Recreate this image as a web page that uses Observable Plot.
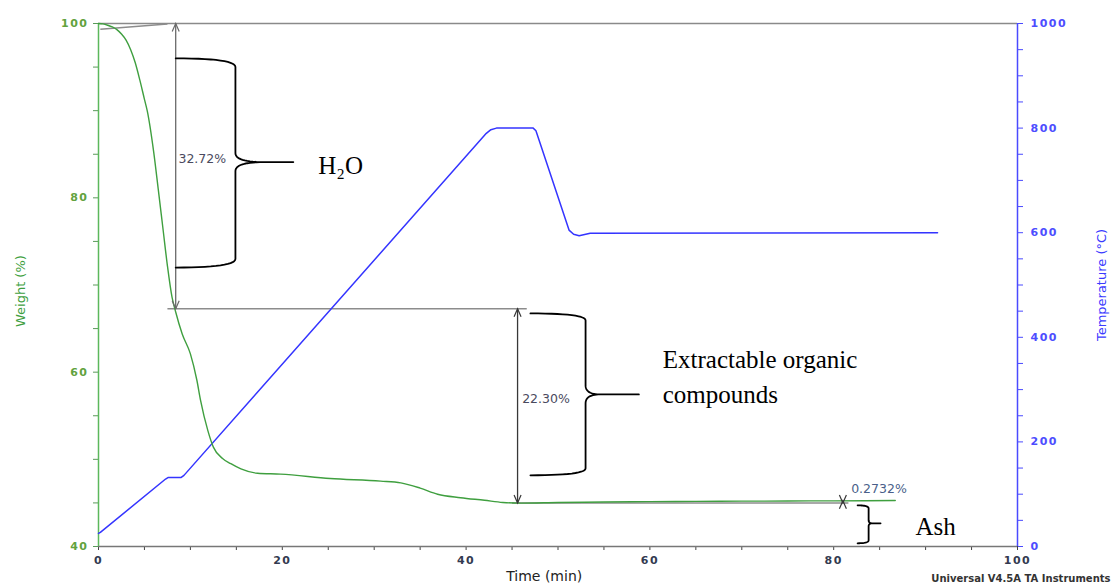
<!DOCTYPE html>
<html>
<head>
<meta charset="utf-8">
<script src="https://cdn.jsdelivr.net/npm/d3@7"></script>
<script src="https://cdn.jsdelivr.net/npm/@observablehq/plot@0.6"></script>
<style>
  html, body { margin: 0; padding: 0; background: #fff; }
  svg { display: block; }
  g[aria-label="x-axis tick label"], g[aria-label="y-axis tick label"] { letter-spacing: 1.5px; font-weight: bold; }
</style>
</head>
<body>
<div id="chart"></div>
<script>
// ---- Weight (%) vs time (min) ----
const weightTime = [0, 0.5, 1, 1.5, 2, 2.5, 3, 3.5, 4, 4.5, 5, 5.3, 6.0, 6.5, 7.0, 7.5, 8.0, 8.4, 9.1, 10.0, 10.7, 11.1, 11.9, 12.5, 13.5, 14.4, 15.5, 17.3, 19.8, 25.2, 30.7, 32.9, 35.0, 36.9, 39.4, 42, 44, 46, 50, 55, 60, 65, 70, 75, 80, 86.7];
const weightPct  = [100, 99.95, 99.8, 99.6, 99.3, 98.8, 98.1, 97.0, 95.5, 93.5, 91.3, 90.0, 85.3, 81.0, 76.6, 72.2, 68.6, 66.9, 64.4, 62.1, 59.1, 56.8, 53.3, 51.4, 50.1, 49.5, 48.9, 48.4, 48.3, 47.8, 47.5, 47.3, 46.7, 46.0, 45.6, 45.3, 45.05, 44.98, 45.05, 45.1, 45.15, 45.18, 45.2, 45.22, 45.24, 45.27];

// ---- Temperature (°C) vs time (min) ----
const tempTime = [0, 0.2, 7.3, 7.6, 9.0, 9.3, 42.2, 42.7, 43.3, 47.3, 47.6, 51.2, 51.7, 52.3, 53.5, 91.3];
const tempC    = [25, 27, 129, 132, 132, 136, 790, 797, 800, 800, 795, 605, 597, 594, 599, 600];

// ---- Axis ticks ----
const timeTicks = d3.range(0, 101, 5);
const timeTickLabels = [0, 20, 40, 60, 80, 100];
const weightTicks = d3.range(40, 101, 5);
const weightTickLabels = [40, 60, 80, 100];
const tempTicks = d3.range(0, 1001, 50);
const tempTickLabels = [0, 200, 400, 600, 800, 1000];

// ---- Step analysis annotations (data units) ----
const stepPct = ["32.72%", "22.30%", "0.2732%"];
const stepTime = [8.4, 45.6, 81.0];
const stepTop = [100, 67.28, 45.25];
const stepBottom = [67.28, 44.98, 44.98];
const stepLabelTime = [8.7, 46.1, 81.9];
const stepLabelWeight = [84.4, 56.9, 46.56];

const guideX1 = [0.2, 7.5, 45.0];
const guideY1 = [99.35, 67.28, 44.98];
const guideX2 = [7.5, 46.6, 81.6];
const guideY2 = [99.95, 67.28, 44.98];

// ---- Braces and their labels ----
const braceNames = ["H₂O", "Extractable organic\ncompounds", "Ash"];
const braceStart = [8.4, 47.0, 82.6];
const braceSpine = [14.9, 53.0, 83.8];
const braceTip = [21.2, 58.8, 85.1];
const braceTop = [96.0, 66.74, 44.72];
const braceMid = [84.1, 57.45, 42.66];
const braceBottom = [72.0, 48.17, 40.37];
const braceArm = [1.0, 0.8, 0.35];
const braceCuspH = [1.03, 1.03, 0.35];
const braceCuspW = [3.1, 1.6, 0.4];
const braceLabelTime = [23.9, 61.4, 88.9];
const braceLabelWeight = [84.06, 59.7, 42.66];

// temperature mapped onto the weight axis (0–1000 °C ↔ 40–100 %)
const toW = T => 40 + T * 0.06;
const toT = w => Math.round((w - 40) / 0.06);

const weightData = weightTime.map((t, i) => ({t, w: weightPct[i]}));
const tempData = tempTime.map((t, i) => ({t, w: toW(tempC[i])}));
const steps = stepPct.map((label, i) => ({label, t: stepTime[i], top: stepTop[i], bottom: stepBottom[i], lt: stepLabelTime[i], lw: stepLabelWeight[i], color: i === 0 ? "#6a6a6a" : "#383838"}));
const guides = guideX1.map((x1, i) => ({x1, y1: guideY1[i], x2: guideX2[i], y2: guideY2[i]}));

function bracePoints(i) {
  const pts = [];
  const q = (p0, p1, p2, n = 14) => {
    for (let k = 0; k <= n; k++) {
      const s = k / n;
      pts.push({id: i,
        t: (1 - s) ** 2 * p0[0] + 2 * (1 - s) * s * p1[0] + s * s * p2[0],
        w: (1 - s) ** 2 * p0[1] + 2 * (1 - s) * s * p1[1] + s * s * p2[1]});
    }
  };
  const x0 = braceStart[i], xv = braceSpine[i], xt = braceTip[i];
  const yT = braceTop[i], yM = braceMid[i], yB = braceBottom[i];
  const a = braceArm[i], ch = braceCuspH[i], cw = braceCuspW[i];
  q([x0, yT], [xv, yT], [xv, yT - a]);
  q([xv, yM + ch], [xv, yM], [xv + cw, yM]);
  pts.push({id: i, t: xt, w: yM});
  q([xv + cw, yM], [xv, yM], [xv, yM - ch]);
  q([xv, yB + a], [xv, yB], [x0, yB]);
  return pts;
}
const braceData = braceNames.flatMap((_, i) => bracePoints(i));
const braceLabels = braceNames.map((name, i) => ({name, t: braceLabelTime[i], w: braceLabelWeight[i]}));

const headUp = {draw(ctx) { ctx.moveTo(-3.5, 8); ctx.lineTo(0, 0); ctx.lineTo(3.5, 8); }};
const headDown = {draw(ctx) { ctx.moveTo(-3.5, -8); ctx.lineTo(0, 0); ctx.lineTo(3.5, -8); }};

const green = "#3f9f3f";
const blue = "#3434ff";

const chart = Plot.plot({
  width: 1112,
  height: 584,
  marginLeft: 98,
  marginRight: 95,
  marginTop: 23,
  marginBottom: 38,
  style: {fontFamily: "DejaVu Sans", background: "#fff", overflow: "visible"},
  x: {domain: [0, 100]},
  y: {domain: [40, 100]},
  marks: [
    // axes
    Plot.axisX({ticks: timeTicks, tickFormat: d => timeTickLabels.includes(d) ? String(d) : "", tickSize: 4, tickPadding: 6, stroke: "#444", color: "#333a50", fontSize: 11, label: null}),
    Plot.axisY({anchor: "left", ticks: weightTicks, tickFormat: d => weightTickLabels.includes(d) ? String(d) : "", tickSize: 5, tickPadding: 5, stroke: "#5a9a5a", color: "#62a23e", fontSize: 11, label: null}),
    Plot.axisY({anchor: "right", ticks: tempTicks.map(toW), tickFormat: w => tempTickLabels.includes(toT(w)) ? String(toT(w)) : "", tickSize: 5, tickPadding: 8, stroke: "#4a4aff", color: "#4d4dff", fontSize: 11, label: null}),
    Plot.ruleY([100], {stroke: "#8a8a8a", strokeWidth: 1.5}),
    Plot.ruleY([40], {stroke: "#777", strokeWidth: 1.5}),
    Plot.ruleX([0], {stroke: "#5cb85c", strokeWidth: 1.5}),
    Plot.ruleX([100], {stroke: "#4a4aff", strokeWidth: 1.5}),

    // gray guide lines of the step analysis
    Plot.link(guides, {x1: "x1", y1: "y1", x2: "x2", y2: "y2", stroke: "#8c8c8c", strokeWidth: 1.5}),

    // curves
    Plot.line(tempData, {x: "t", y: "w", stroke: blue, strokeWidth: 1.5}),
    Plot.line(weightData, {x: "t", y: "w", stroke: green, strokeWidth: 1.4, curve: "monotone-x"}),

    // step arrows
    Plot.link(steps, {x1: "t", y1: "top", x2: "t", y2: "bottom", stroke: "color", strokeWidth: 1.3}),
    Plot.dot(steps, {x: "t", y: "top", symbol: headUp, r: 4, fill: "none", stroke: "color", strokeWidth: 1.2}),
    Plot.dot(steps, {x: "t", y: "bottom", symbol: headDown, r: 4, fill: "none", stroke: "color", strokeWidth: 1.2}),
    Plot.text(steps, {x: "lt", y: "lw", text: "label", textAnchor: "start", fontSize: 12.5, fill: (d, i) => i === 2 ? "#4a5f8a" : "#4a4a5e"}),

    // braces
    Plot.line(braceData, {x: "t", y: "w", z: "id", stroke: "#000", strokeWidth: 1.8, strokeLinejoin: "round"}),
    Plot.text(braceLabels, {x: "t", y: "w", text: "name", textAnchor: "start", fontFamily: "Liberation Serif", fontSize: 25, lineHeight: 1.4, fill: "#000"}),

    // axis titles & credit
    Plot.text(["Weight (%)"], {frameAnchor: "left", y: 69.3, dx: -78, rotate: -90, textAnchor: "middle", fill: "#3f9f3f", fontSize: 13, text: d => d}),
    Plot.text(["Temperature (°C)"], {frameAnchor: "right", y: 70.0, dx: 84, rotate: -90, textAnchor: "middle", fill: "#3a3aff", fontSize: 13, text: d => d}),
    Plot.text(["Time (min)"], {frameAnchor: "bottom", x: 48.5, dy: 34, lineAnchor: "bottom", fill: "#222", fontSize: 14, text: d => d}),
    Plot.text(["Universal V4.5A TA Instruments"], {frameAnchor: "bottom-right", dx: 93, dy: 35, textAnchor: "end", lineAnchor: "bottom", fill: "#333", fontSize: 10, fontWeight: "bold", text: d => d})
  ]
});
document.getElementById("chart").appendChild(chart);
</script>
</body>
</html>
